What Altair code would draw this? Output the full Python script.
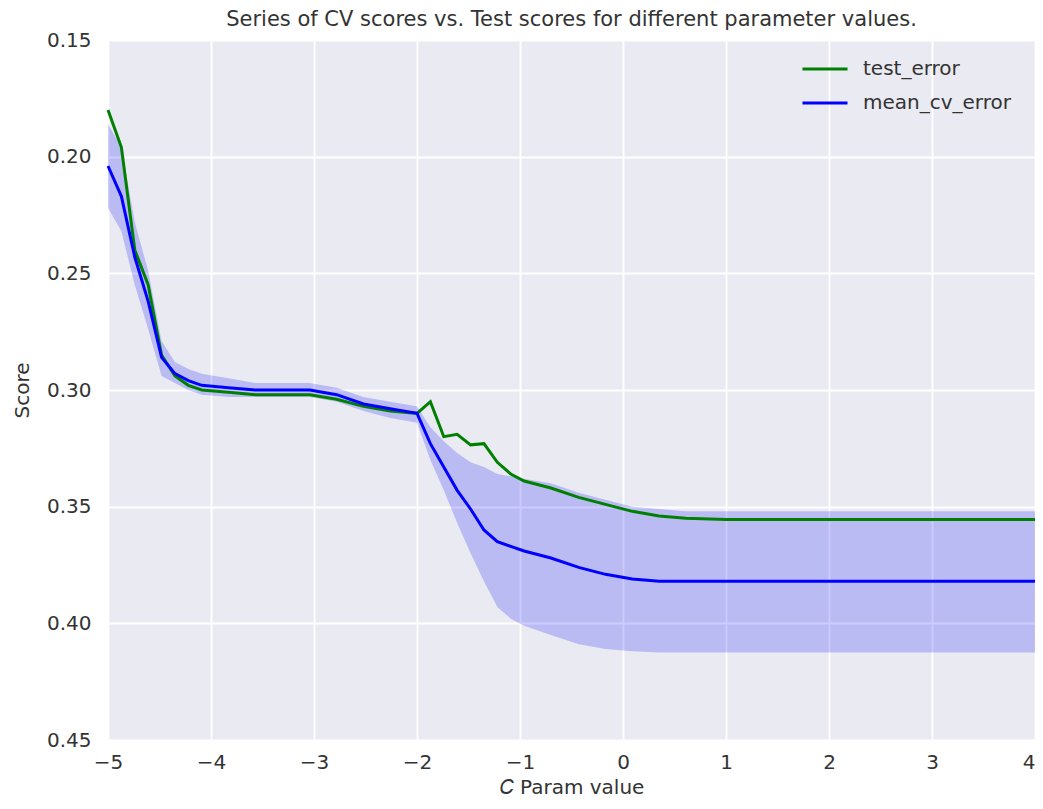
import altair as alt
import pandas as pd

c_values = [-5.0, -4.87, -4.74, -4.61, -4.48, -4.35, -4.22, -4.09, -3.83, -3.57,
            -3.30, -3.04, -2.78, -2.52, -2.26, -2.0, -1.87, -1.74, -1.61, -1.48,
            -1.35, -1.22, -1.09, -0.96, -0.70, -0.43, -0.17, 0.09, 0.35, 0.61,
            1.0, 2.0, 3.0, 4.0]

test_error = [0.180, 0.196, 0.240, 0.255, 0.285, 0.294, 0.298, 0.300, 0.301, 0.302,
              0.302, 0.302, 0.304, 0.307, 0.309, 0.310, 0.305, 0.320, 0.319, 0.3235,
              0.323, 0.331, 0.336, 0.339, 0.342, 0.346, 0.349, 0.352, 0.354, 0.355,
              0.3555, 0.3555, 0.3555, 0.3555]

mean_cv_error = [0.204, 0.217, 0.243, 0.262, 0.286, 0.293, 0.296, 0.298, 0.299, 0.300,
                 0.300, 0.300, 0.302, 0.306, 0.308, 0.310, 0.323, 0.333, 0.343, 0.351,
                 0.360, 0.365, 0.367, 0.369, 0.372, 0.376, 0.379, 0.381, 0.382, 0.382,
                 0.382, 0.382, 0.382, 0.382]

cv_band_upper = [0.186, 0.196, 0.228, 0.249, 0.279, 0.288, 0.291, 0.293, 0.295, 0.297,
                 0.297, 0.297, 0.299, 0.303, 0.305, 0.307, 0.316, 0.322, 0.327, 0.331,
                 0.333, 0.336, 0.337, 0.338, 0.340, 0.344, 0.347, 0.350, 0.351, 0.352,
                 0.352, 0.352, 0.352, 0.352]

cv_band_lower = [0.222, 0.232, 0.255, 0.274, 0.294, 0.297, 0.300, 0.302, 0.303, 0.303,
                 0.303, 0.303, 0.305, 0.309, 0.312, 0.314, 0.330, 0.343, 0.357, 0.370,
                 0.382, 0.393, 0.398, 0.401, 0.405, 0.409, 0.411, 0.412, 0.4125, 0.4125,
                 0.4125, 0.4125, 0.4125, 0.4125]

series_names = ["test_error", "mean_cv_error"]
series_colors = ["#008000", "#0000FF"]
x_ticks = [-5, -4, -3, -2, -1, 0, 1, 2, 3, 4]
y_ticks = [0.15, 0.20, 0.25, 0.30, 0.35, 0.40, 0.45]

n = len(c_values)
lines = pd.DataFrame({
    "c": c_values * 2,
    "score": test_error + mean_cv_error,
    "series": [series_names[0]] * n + [series_names[1]] * n,
    "order": list(range(n)) * 2,
})
band = pd.DataFrame({"c": c_values, "hi": cv_band_upper, "lo": cv_band_lower})

TXT = "#333333"
FONT = "DejaVu Sans"
FS = 20

x_enc = alt.X("c:Q",
              scale=alt.Scale(domain=[-5, 4], nice=False, zero=False),
              axis=alt.Axis(values=x_ticks, title="𝐶 Param value", format="d",
                            labelPadding=12, titlePadding=5, labelFlush=False,
                            labelAlign={"condition": {"test": "datum.value == 4", "value": "right"},
                                        "value": "center"}))
y_scale = alt.Scale(domain=[0.15, 0.45], reverse=True, nice=False, zero=False)

area = alt.Chart(band).mark_area(color="#0000FF", opacity=0.2).encode(
    x=x_enc,
    y=alt.Y("hi:Q", scale=y_scale,
            axis=alt.Axis(values=y_ticks, format=".2f", title="Score",
                          labelPadding=17, titlePadding=14, labelFlush=False)),
    y2="lo:Q",
)

line = alt.Chart(lines).mark_line(strokeWidth=3).encode(
    x=x_enc,
    y=alt.Y("score:Q", scale=y_scale),
    color=alt.Color("series:N",
                    scale=alt.Scale(domain=series_names, range=series_colors),
                    sort=series_names,
                    legend=alt.Legend(title=None, orient="none", legendX=693, legendY=5,
                                      symbolType="stroke", symbolSize=2025,
                                      symbolStrokeWidth=3, labelFontSize=FS,
                                      labelColor=TXT, labelFont=FONT, labelOffset=14,
                                      padding=0, rowPadding=-5)),
    order="order:Q",
)

chart = alt.layer(area, line).properties(
    width=927, height=700,
    title=alt.TitleParams("Series of CV scores vs. Test scores for different  parameter values.",
                          fontSize=21, font=FONT, color=TXT, fontWeight="normal",
                          anchor="middle", offset=0),
    autosize=alt.AutoSizeParams(type="none"),
    padding={"left": 100, "top": 32, "right": 0, "bottom": 60},
).configure_view(
    fill="#EAEAF2", strokeWidth=0,
).configure_axis(
    grid=True, gridColor="white", gridWidth=1.8, domain=False, ticks=False,
    labelFont=FONT, labelFontSize=FS, labelColor=TXT,
    titleFont=FONT, titleFontSize=FS, titleColor=TXT, titleFontWeight="normal",
)

chart.save("out.html", embed_options={"renderer": "svg", "actions": False})
